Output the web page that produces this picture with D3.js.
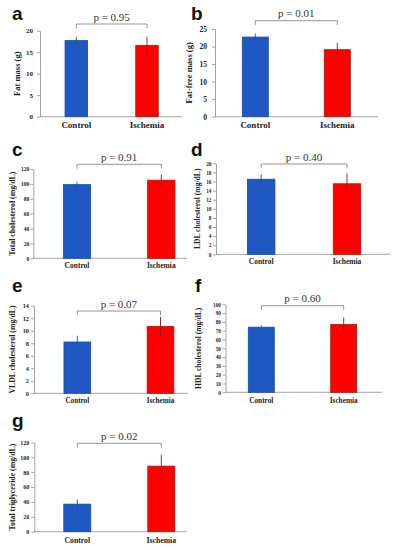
<!DOCTYPE html>
<html>
<head>
<meta charset="utf-8">
<script src="https://cdn.jsdelivr.net/npm/d3@7"></script>
<style>
body{margin:0;background:#fff;}
svg{display:block;}
.tk text{font-family:"Liberation Serif","Times New Roman",serif;font-weight:bold;fill:#222;}
</style>
</head>
<body>
<div id="chart"></div>
<script>
// data
var panelIds=["a","b","c","d","e","f","g"];
var groups=["Control","Ischemia"];
var yTitles=["Fat mass (g)","Fat-free mass (g)","Total cholesterol (mg/dL)","LDL cholesterol (mg/dL)",
	"VLDL cholesterol (mg/dL)","HDL cholesterol (mg/dL)","Total triglyceride (mg/dL)"];
var controlMean=[17.7,22.7,99,16.5,8.2,74,37];
var controlErr=[0.9,1.0,4,1.1,1.0,2,6.5];
var ischemiaMean=[16.6,19.1,105,15.5,10.7,77,88];
var ischemiaErr=[2.0,2.0,8,2.3,1.5,8,15];
var yMax=[20,25,120,20,14,100,120];
var yStep=[5,5,20,2,2,10,20];
var pValues=["0.95","0.01","0.91","0.40","0.07","0.60","0.02"];

// where each small chart sits on the page
var layout=[
	{ax:40,axEnd:182,yT:30.7,y0:116.7,c1:76.3,c2:147,bw:22.5,br:24,lx:12,ly:20,xl:128,ytx:19.5,tf:7,tp:4,xf:9,tt:8.5},
	{ax:215,axEnd:378,yT:29,y0:116.7,c1:255.3,c2:337.3,bw:26,br:20.7,lx:191,ly:20,xl:128,ytx:191.5,tf:7.5,tp:5,xf:9,tt:8.5},
	{ax:33.3,axEnd:187,yT:169,y0:258.3,c1:77,c2:161.3,bw:27.3,br:164.3,lx:12,ly:156,xl:267.5,ytx:14.5,tf:5.5,tp:1,xf:7.5,tt:7.8},
	{ax:216,axEnd:390,yT:163.3,y0:254.3,c1:261.2,c2:347,bw:27.5,br:164,lx:191,ly:156,xl:264,ytx:200,tf:5.3,tp:1.5,xf:7.5,tt:7.6},
	{ax:34,axEnd:188,yT:305.7,y0:393.3,c1:77.3,c2:160.5,bw:26.7,br:311,lx:12,ly:291.5,xl:403.3,ytx:15,tf:6.3,tp:2,xf:7.2,tt:7.8},
	{ax:225.5,axEnd:382,yT:304.3,y0:392.3,c1:261.3,c2:343.7,bw:26,br:305.7,lx:195,ly:291.5,xl:403.3,ytx:201,tf:5.3,tp:1.5,xf:7.3,tt:7.6},
	{ax:34.3,axEnd:187,yT:442.3,y0:531.7,c1:77.3,c2:161.3,bw:27,br:443.3,lx:12,ly:427,xl:543.3,ytx:15,tf:6,tp:2,xf:7.7,tt:7.8}
];

var barFill=["#1f58c2","#ff0000"];
var barStroke=["#1a48a8","#b31200"];
var errColor=["#1c5e5a","#8e1a1a"];
var serif='"Liberation Serif","Times New Roman",serif';

var svg=d3.select("#chart").append("svg").attr("width",395).attr("height",550);

panelIds.forEach(function(id,i){
	var L=layout[i];
	var g=svg.append("g").attr("class","panel-"+id);
	var y=d3.scaleLinear().domain([0,yMax[i]]).range([L.y0,L.yT]);
	var x=d3.scalePoint().domain(groups).range([L.c1,L.c2]);
	var means=[controlMean[i],ischemiaMean[i]];
	var errs=[controlErr[i],ischemiaErr[i]];

	// y axis
	var yax=g.append("g").attr("class","tk")
		.attr("transform","translate("+L.ax+",0)")
		.call(d3.axisLeft(y).tickValues(d3.range(0,yMax[i]+yStep[i]/2,yStep[i]))
			.tickSize(3).tickSizeOuter(0).tickPadding(L.tp));
	yax.select(".domain").attr("stroke","#8a8a8a").attr("stroke-width",0.8);
	yax.selectAll(".tick line").attr("stroke","#8a8a8a").attr("stroke-width",0.8);
	yax.selectAll(".tick text").style("font-size",L.tf+"px");

	// x axis line
	g.append("line").attr("x1",L.ax).attr("x2",L.axEnd).attr("y1",L.y0).attr("y2",L.y0)
		.attr("stroke","#8a8a8a").attr("stroke-width",0.8);

	// bars
	g.selectAll(".bar").data(means).enter().append("rect").attr("class","bar")
		.attr("x",function(d,j){return x(groups[j])-L.bw/2;})
		.attr("y",function(d){return y(d);})
		.attr("width",L.bw)
		.attr("height",function(d){return L.y0-y(d);})
		.attr("fill",function(d,j){return barFill[j];})
		.attr("stroke",function(d,j){return barStroke[j];})
		.attr("stroke-width",0.8);

	// error bars
	g.selectAll(".err").data(means).enter().append("line").attr("class","err")
		.attr("x1",function(d,j){return x(groups[j]);})
		.attr("x2",function(d,j){return x(groups[j]);})
		.attr("y1",function(d,j){return y(d-errs[j]);})
		.attr("y2",function(d,j){return y(d+errs[j]);})
		.attr("stroke",function(d,j){return errColor[j];})
		.attr("stroke-width",0.9);

	// category labels
	g.selectAll(".xlab").data(groups).enter().append("text").attr("class","xlab")
		.attr("x",function(d){return x(d);}).attr("y",L.xl)
		.attr("text-anchor","middle")
		.style("font-family",serif).style("font-weight","bold").style("font-size",L.xf+"px")
		.attr("fill","#222").text(function(d){return d;});

	// y title
	g.append("text")
		.attr("transform","translate("+L.ytx+","+((L.y0+L.yT)/2)+") rotate(-90)")
		.attr("text-anchor","middle")
		.style("font-family",serif).style("font-weight","bold").style("font-size",L.tt+"px")
		.attr("fill","#222").text(yTitles[i]);

	// significance bracket
	var bx1=x(groups[0]),bx2=x(groups[1]);
	g.append("path")
		.attr("d","M"+bx1+","+(L.br+4.3)+"V"+L.br+"H"+bx2+"V"+(L.br+4.3))
		.attr("fill","none").attr("stroke","#7a7a7a").attr("stroke-width",0.8);
	g.append("text").attr("x",(bx1+bx2)/2).attr("y",L.br-3.5)
		.attr("text-anchor","middle")
		.style("font-family",serif).style("font-size","11px")
		.attr("fill","#333").text("p = "+pValues[i]);

	// panel letter
	g.append("text").attr("x",L.lx).attr("y",L.ly)
		.style("font-family",'"Liberation Sans",Arial,sans-serif').style("font-weight","bold")
		.style("font-size","19px").attr("fill","#111").text(id);
});
</script>
</body>
</html>
